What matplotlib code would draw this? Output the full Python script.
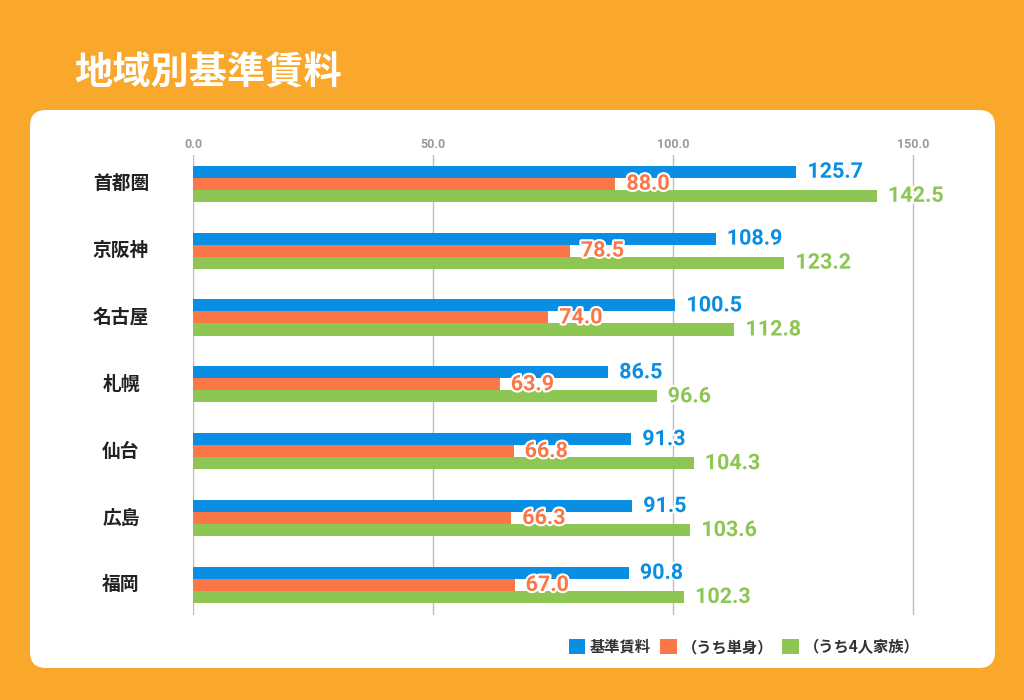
import matplotlib.pyplot as plt
import matplotlib.patheffects as pe
from matplotlib.patches import FancyBboxPatch, Patch
import numpy as np

plt.rcParams['font.family'] = ['Noto Sans CJK JP', 'DejaVu Sans']

regions = ['首都圏', '京阪神', '名古屋', '札幌', '仙台', '広島', '福岡']
base_rent = [125.7, 108.9, 100.5, 86.5, 91.3, 91.5, 90.8]
single = [88.0, 78.5, 74.0, 63.9, 66.8, 66.3, 67.0]
family4 = [142.5, 123.2, 112.8, 96.6, 104.3, 103.6, 102.3]
series_names = ['基準賃料', '（うち単身）', '（うち4人家族）']
ticks = [0, 50, 100, 150]

orange_bg = '#F9A82B'
colors = ['#0A8EE3', '#FC7747', '#8DC653']

fig = plt.figure(figsize=(10.24, 7.0), dpi=100)
fig.patch.set_facecolor(orange_bg)

# white rounded panel
panel = FancyBboxPatch((0.30, 0.32), 9.65, 5.58,
                       boxstyle='round,pad=0,rounding_size=0.16',
                       transform=fig.dpi_scale_trans,
                       facecolor='white', edgecolor='none', zorder=0)
fig.add_artist(panel)

fig.text(0.74 / 10.24, 1 - 0.73 / 7.0, '地域別基準賃料', color='white',
         fontsize=27.5, fontweight='bold', va='center', ha='left')

ax = fig.add_axes([193 / 1024, 1 - 615 / 700, 768 / 1024, 460 / 700])
ax.set_facecolor('none')

y = np.arange(len(regions))
h = 0.18
all_series = [base_rent, single, family4]
for k, (vals, c) in enumerate(zip(all_series, colors)):
    ax.barh(y + (k - 1) * h, vals, height=h, color=c, zorder=3)
    for yi, v in zip(y, vals):
        ax.annotate(f'{v:.1f}', (v, yi + (k - 1) * h), xytext=(11, 0),
                    textcoords='offset pixels', va='center', ha='left',
                    color=c, fontsize=15.5, fontweight='bold',
                    family=['Roboto', 'DejaVu Sans'], zorder=5,
                    path_effects=[pe.withStroke(linewidth=3, foreground='white')])

ax.set_xlim(0, 160)
ax.set_ylim(len(regions) - 1 + 0.45, -0.43)
ax.set_xticks(ticks)
ax.set_xticklabels([f'{t:.1f}' for t in ticks])
ax.xaxis.tick_top()
ax.tick_params(axis='x', length=0, pad=3, labelsize=9, labelcolor='#9a9a9a')
for lab in ax.get_xticklabels():
    lab.set_fontweight('bold')
    lab.set_family(['Roboto', 'DejaVu Sans'])
ax.set_yticks([])
ax.grid(axis='x', color='#bdbdbd', linewidth=1, zorder=1)
for s in ax.spines.values():
    s.set_visible(False)

for yi, name in zip(y, regions):
    ax.text(-72 / 4.8, yi, name, ha='center', va='center', fontsize=13.5,
            fontweight='bold', color='#222222')

handles = [Patch(facecolor=c, edgecolor='none') for c in colors]
fig.legend(handles, series_names, loc='center right',
           bbox_to_anchor=(930 / 1024, 1 - 647 / 700), ncol=3, frameon=False,
           handlelength=1.1, handleheight=1.1, handletextpad=0.3,
           columnspacing=0.6, borderpad=0.2, prop={'size': 11, 'weight': 'bold'})
for t in fig.legends[0].get_texts():
    t.set_color('#333333')

fig.savefig('out.png', dpi=100, facecolor=orange_bg)
